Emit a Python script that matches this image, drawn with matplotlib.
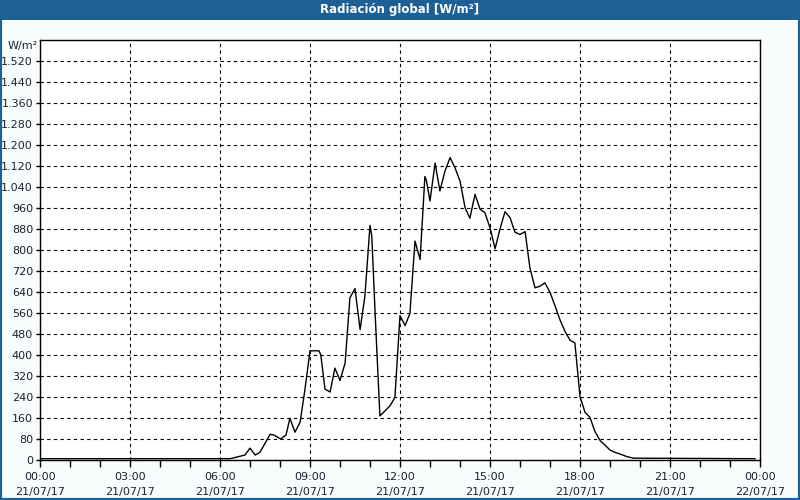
import matplotlib
matplotlib.use('Agg')
import matplotlib.pyplot as plt
from matplotlib.patches import Rectangle

# 10-minute samples (hours since 21/07/17 00:00, W/m2)
hours = [0.0, 6.33, 6.42, 6.83, 7.0, 7.17, 7.33, 7.67, 7.8, 8.02, 8.2,
         8.33, 8.5, 8.67, 8.83, 9.0, 9.3, 9.36, 9.5, 9.67, 9.83, 10.0,
         10.17, 10.33, 10.5, 10.67, 10.83, 11.0, 11.06, 11.17, 11.33, 11.5,
         11.67, 11.83, 12.0, 12.17, 12.33, 12.5, 12.67, 12.83, 12.88, 13.0,
         13.17, 13.33, 13.5, 13.67, 13.83, 14.0, 14.17, 14.33, 14.5, 14.67,
         14.83, 15.0, 15.17, 15.33, 15.5, 15.67, 15.83, 16.0, 16.17, 16.33,
         16.5, 16.67, 16.83, 17.0, 17.17, 17.33, 17.5, 17.67, 17.83, 18.0,
         18.17, 18.33, 18.5, 18.67, 18.83, 19.0, 19.17, 19.33, 19.56, 19.78,
         23.83]
radiation = [5, 5, 7, 19, 45, 19, 29, 98, 95, 80, 95,
             159, 106, 144, 267, 416, 416, 401, 270, 259, 350, 303,
             369, 618, 653, 497, 624, 894, 853, 560, 168, 187,
             207, 238, 550, 512, 558, 834, 764, 1080, 1065, 987,
             1131, 1025, 1101, 1152, 1114, 1063, 961, 921, 1012, 955,
             942, 885, 805, 879, 946, 923, 868, 859, 870, 732,
             656, 662, 675, 639, 586, 535, 490, 456, 446, 242,
             181, 163, 108, 74, 57, 38, 29, 23, 13, 7,
             5]

y_ticks = list(range(0, 1521, 80))
y_labels = ['{:,}'.format(v).replace(',', '.') for v in y_ticks]
x_ticks = [0, 3, 6, 9, 12, 15, 18, 21, 24]
x_labels = ['00:00\n21/07/17', '03:00\n21/07/17', '06:00\n21/07/17',
            '09:00\n21/07/17', '12:00\n21/07/17', '15:00\n21/07/17',
            '18:00\n21/07/17', '21:00\n21/07/17', '00:00\n22/07/17']

blue = '#1d6096'
text_col = '#1c2030'

fig = plt.figure(figsize=(8, 5), dpi=100, facecolor='#f8fcfc')
ax = fig.add_axes([0.05, 0.08, 0.9, 0.84])

ax.plot(hours, radiation, color='black', linewidth=1)

ax.set_xlim(0, 24)
ax.set_ylim(0, 1600)
ax.set_xticks(x_ticks)
ax.set_xticklabels(x_labels, fontsize=8, color=text_col, linespacing=1.6)
ax.set_xticks(range(0, 25), minor=True)
ax.set_yticks(y_ticks)
ax.set_yticklabels(y_labels, fontsize=8, color=text_col)
ax.tick_params(axis='y', length=3, width=1, pad=2)
ax.tick_params(axis='x', which='both', length=5, width=1, pad=4)
ax.grid(True, color='black', linestyle=(0, (3, 3)), linewidth=0.8)
for s in ax.spines.values():
    s.set_linewidth(1)
    s.set_color('black')

# unit label in the top-left corner
fig.text(0.047, 0.908, 'W/m²', fontsize=8, color=text_col, ha='right', va='center')

# title bar and frame
fig.patches.append(Rectangle((0, 0.96), 1, 0.04, transform=fig.transFigure,
                             facecolor=blue, edgecolor='none'))
fig.patches.append(Rectangle((0, 0), 1, 1, transform=fig.transFigure,
                             facecolor='none', edgecolor=blue, linewidth=3))
fig.text(0.5, 0.98, 'Radiación global [W/m²]', color='white', fontsize=8.5,
         fontweight='bold', ha='center', va='center')

fig.savefig('out.png', dpi=100, facecolor=fig.get_facecolor())
